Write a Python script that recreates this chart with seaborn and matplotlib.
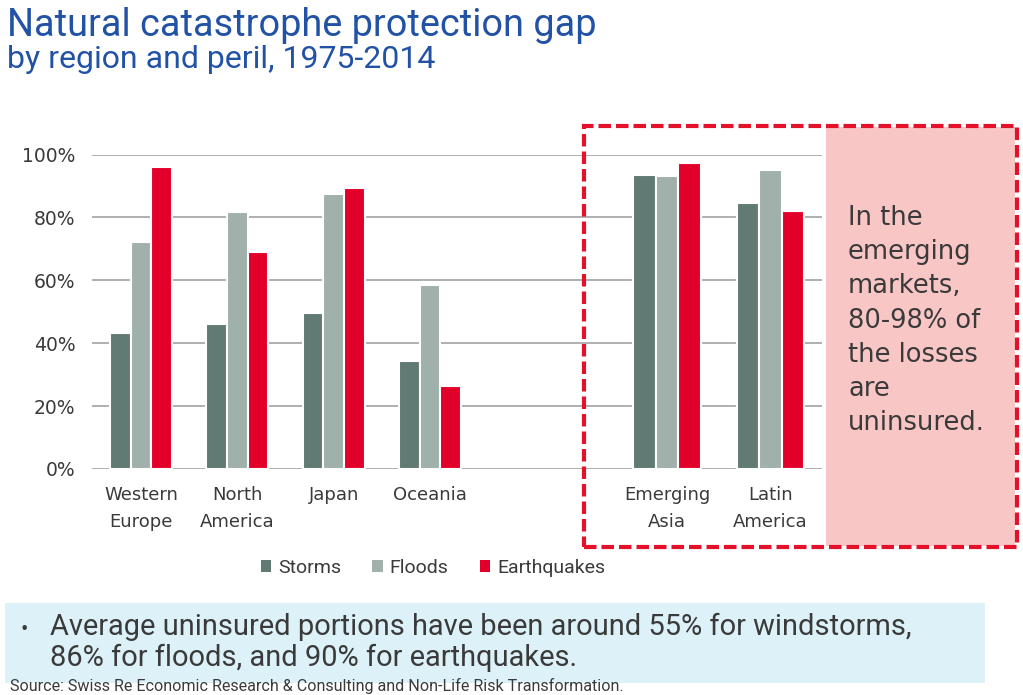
import numpy as np
import pandas as pd
import seaborn as sns
import matplotlib.pyplot as plt
from matplotlib.patches import Rectangle, Patch

# data (share of losses uninsured, %)
regions = ["Western Europe", "North America", "Japan", "Oceania", "Emerging Asia", "Latin America"]
tick_labels = ["Western\nEurope", "North\nAmerica", "Japan", "Oceania", "Emerging\nAsia", "Latin\nAmerica"]
perils = ["Storms", "Floods", "Earthquakes"]
storms = [43.1, 46.1, 49.5, 34.3, 93.6, 84.6]
floods = [72.1, 81.7, 87.4, 58.4, 93.2, 95.0]
quakes = [96.1, 69.0, 89.3, 26.4, 97.3, 82.1]
y_ticks = [0, 20, 40, 60, 80, 100]

colors = ["#617a74", "#a0b0aa", "#e2002b"]
grid_color = "#9a9a9a"
text_color = "#3a3a3a"

df = pd.DataFrame({
    "region": np.repeat(regions, len(perils)),
    "peril": perils * len(regions),
    "value": np.column_stack([storms, floods, quakes]).ravel(),
})

sns.set_style("white")
plt.rcParams["font.family"] = ["DejaVu Sans"]

W, H = 1023, 695
fig = plt.figure(figsize=(W / 100, H / 100), dpi=100)

def fx(px):
    return px / W

def fy(py):
    return 1 - py / H

# two axes so that the emerging markets group can sit in its own box
ax_l = fig.add_axes([fx(92), fy(469), fx(548) - fx(92), fy(154.5) - fy(469)])
ax_r = fig.add_axes([fx(548), fy(469), fx(822) - fx(548), fy(154.5) - fy(469)], sharey=ax_l)

groups = [(ax_l, regions[:4], tick_labels[:4], 0.645, (-0.509, 4.225)),
          (ax_r, regions[4:], tick_labels[4:], 0.65, (-1.15, 1.498))]

for ax, regs, labs, w, xlim in groups:
    sub = df[df["region"].isin(regs)]
    sns.barplot(data=sub, x="region", y="value", hue="peril", order=regs,
                hue_order=perils, palette=colors, width=w, saturation=1,
                edgecolor="white", linewidth=1.5, legend=False, ax=ax)
    ax.set_xlim(*xlim)
    ax.set_ylim(0, 100)
    ax.set_yticks(y_ticks)
    ax.set_axisbelow(True)
    ax.yaxis.grid(True, color=grid_color, linewidth=1.1)
    ax.xaxis.grid(False)
    for s in ax.spines.values():
        s.set_visible(False)
    ax.set_xlabel("")
    ax.set_ylabel("")
    ax.set_xticks(range(len(regs)))
    ax.set_xticklabels(labs, fontsize=13, color=text_color, linespacing=1.65)
    ax.tick_params(axis="x", length=0, pad=12)
    ax.tick_params(axis="y", length=0, pad=12)
    ax.patch.set_alpha(0)

ax_l.set_yticklabels([f"{t}%" for t in y_ticks], fontsize=13.5, color=text_color)
ax_r.tick_params(axis="y", labelleft=False)

# pink note box and dashed red frame
fig.add_artist(Rectangle((fx(826), fy(546)), fx(1015) - fx(826), fy(127) - fy(546),
                         transform=fig.transFigure, facecolor="#f9c6c6", edgecolor="none", zorder=-1))
fig.add_artist(Rectangle((fx(584), fy(547)), fx(1017) - fx(584), fy(126) - fy(547),
                         transform=fig.transFigure, facecolor="none", edgecolor="#e3122a",
                         linewidth=3, linestyle=(0, (3.0, 1.2)), zorder=5))
fig.text(fx(848), fy(205), "In the\nemerging\nmarkets,\n80-98% of\nthe losses\nare\nuninsured.",
         fontsize=18.5, color=text_color, va="top", ha="left", linespacing=1.41)

# title
fig.text(fx(7), fy(7), "Natural catastrophe protection gap", fontsize=27.3,
         family="Roboto", color="#2152a6", va="top")
fig.text(fx(7), fy(45), "by region and peril, 1975-2014", fontsize=23,
         family="Roboto", color="#2152a6", va="top")

# legend
handles = [Patch(facecolor=c, edgecolor="none", label=p) for c, p in zip(colors, perils)]
fig.legend(handles=handles, loc="center", bbox_to_anchor=(fx(433), fy(568)), ncol=3,
           frameon=False, prop={"family": "Roboto", "size": 14}, labelcolor=text_color,
           handlelength=0.55, handleheight=0.55, handletextpad=0.35, columnspacing=1.6)

# bottom note
fig.add_artist(Rectangle((fx(5), fy(683)), fx(985) - fx(5), fy(603) - fy(683),
                         transform=fig.transFigure, facecolor="#ddf1f8", edgecolor="none", zorder=-1))
fig.text(fx(20), fy(630), "\u2022", fontsize=16, color=text_color, va="center", family="Roboto")
fig.text(fx(50), fy(613),
         "Average uninsured portions have been around 55% for windstorms,\n86% for floods, and 90% for earthquakes.",
         fontsize=20.9, color=text_color, va="top", family="Roboto", linespacing=1.1)
fig.text(fx(10), fy(686), "Source: Swiss Re Economic Research & Consulting and Non-Life Risk Transformation.",
         fontsize=11.6, color=text_color, va="center", family="Roboto")

fig.savefig("out.png", dpi=100)
